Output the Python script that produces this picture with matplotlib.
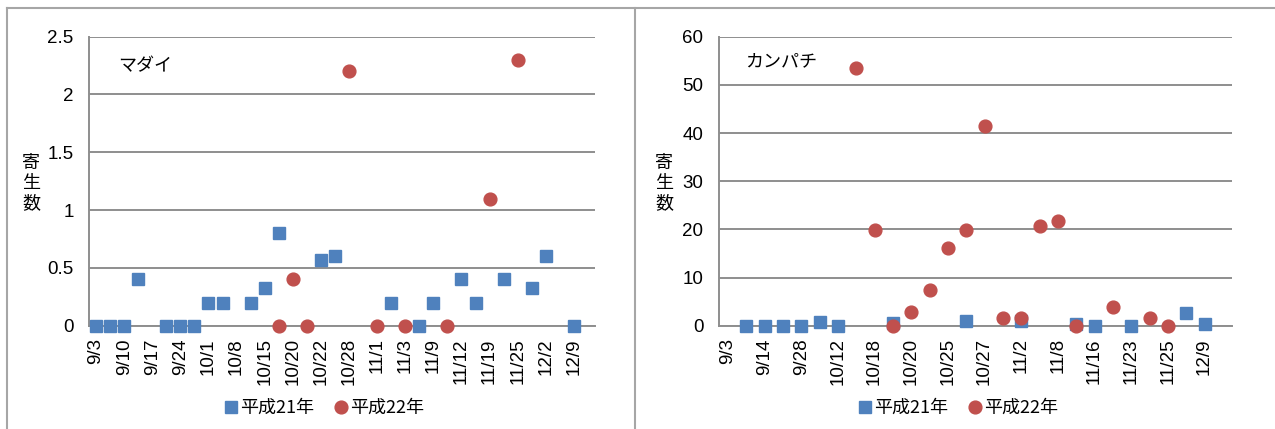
import numpy as np
import matplotlib
matplotlib.use("Agg")
import matplotlib.pyplot as plt
from matplotlib.lines import Line2D

plt.rcParams['font.family'] = ['Liberation Sans', 'Noto Sans CJK JP', 'DejaVu Sans']
JP = ['Noto Sans CJK JP', 'DejaVu Sans']

nan = np.nan

# マダイ: 36 sampling slots, every other one labelled
madai_labels = ["9/3", "9/10", "9/17", "9/24", "10/1", "10/8", "10/15", "10/20", "10/22",
                "10/28", "11/1", "11/3", "11/9", "11/12", "11/19", "11/25", "12/2", "12/9"]
madai_h21 = [0, 0, 0, 0.4, nan, 0, 0, 0, 0.2, 0.2, nan, 0.2, 0.33, 0.8, nan, nan, 0.57, 0.6,
             nan, nan, nan, 0.2, nan, 0, 0.2, nan, 0.4, 0.2, nan, 0.4, nan, 0.33, 0.6, nan, 0, nan]
madai_h22 = [nan, nan, nan, nan, nan, nan, nan, nan, nan, nan, nan, nan, nan, 0, 0.4, 0, nan, nan,
             2.2, nan, 0, nan, 0, nan, nan, 0, nan, nan, 1.1, nan, 2.3, nan, nan, nan, nan, nan]

# カンパチ: 28 sampling slots, every other one labelled
kanpachi_labels = ["9/3", "9/14", "9/28", "10/12", "10/18", "10/20", "10/25", "10/27",
                   "11/2", "11/8", "11/16", "11/23", "11/25", "12/9"]
kanpachi_h21 = [nan, 0, 0, 0, 0, 0.7, 0, nan, nan, 0.6, nan, nan, nan, 0.9, nan, nan, 1.0, nan,
                nan, 0.3, 0, nan, 0, nan, nan, 2.6, 0.3, nan]
kanpachi_h22 = [nan, nan, nan, nan, nan, nan, nan, 53.6, 19.8, 0, 2.8, 7.5, 16.1, 19.9, 41.5, 1.5,
                1.7, 20.6, 21.8, 0, nan, 3.9, nan, 1.5, 0, nan, nan, nan]

series_names = ["平成21年", "平成22年"]
BLUE = "#4F81BD"
RED = "#C0504D"
GRID = "#8E8E8E"

W, H = 1275, 429
fig = plt.figure(figsize=(W / 100, H / 100), dpi=100)


def px_box(x0, x1, y_top, y_bot):
    return [x0 / W, 1 - y_bot / H, (x1 - x0) / W, (y_bot - y_top) / H]


def draw_panel(rect, labels, h21, h22, ymax, ystep, yfmt, title, title_xy, ylabel_x, legend_x):
    ax = fig.add_axes(rect)
    n = len(h21)
    x = np.arange(n)
    ax.plot(x, h21, linestyle="none", marker="s", markersize=8.8, color=BLUE,
            markeredgecolor=BLUE, clip_on=False, zorder=3)
    ax.plot(x, h22, linestyle="none", marker="o", markersize=9.2, color=RED,
            markeredgecolor=RED, clip_on=False, zorder=4)
    ax.set_xlim(-0.5, n - 0.5)
    ax.set_ylim(0, ymax)
    yt = np.arange(0, ymax + ystep / 2, ystep)
    ax.set_yticks(yt)
    ax.set_yticklabels([yfmt(v) for v in yt], fontsize=13.5)
    ax.set_xticks(x[::2][:len(labels)])
    ax.set_xticklabels(labels, rotation=90, fontsize=13.5, ha="center", va="top")
    ax.tick_params(axis="both", length=0)
    ax.tick_params(axis="y", pad=11)
    ax.tick_params(axis="x", pad=9)
    ax.grid(axis="y", color=GRID, linewidth=1.4)
    ax.set_axisbelow(True)
    for s in ("top", "right"):
        ax.spines[s].set_visible(False)
    for s in ("left", "bottom"):
        ax.spines[s].set_color(GRID)
        ax.spines[s].set_linewidth(1.4)
        ax.spines[s].set_zorder(2)
    ax.text(title_xy[0], title_xy[1], title, transform=ax.transAxes, fontsize=13,
            family=JP, ha="left", va="center")
    fig.text(ylabel_x / W, 1 - 183 / H, "寄\n生\n数", fontsize=13, family=JP, ha="center",
             va="center", linespacing=1.16)
    handles = [Line2D([], [], linestyle="none", marker="s", markersize=8.8, color=BLUE),
               Line2D([], [], linestyle="none", marker="o", markersize=9.2, color=RED)]
    fig.legend(handles, series_names, loc="center", bbox_to_anchor=(legend_x / W, 1 - 408 / H),
               ncol=2, frameon=False, prop={"family": JP, "size": 13}, handletextpad=0.0,
               columnspacing=1.0, handlelength=1.0)
    return ax


def fmt_madai(v):
    return "0" if v == 0 else ("%g" % v)


draw_panel(px_box(89, 595, 36.7, 325.7), madai_labels, madai_h21, madai_h22, 2.5, 0.5,
           fmt_madai, "マダイ", (0.057, 0.899), 31, 323)
draw_panel(px_box(718.7, 1232, 36.7, 325.7), kanpachi_labels, kanpachi_h21, kanpachi_h22,
           60, 10, lambda v: "%d" % v, "カンパチ", (0.051, 0.916), 664, 957)

# chart-area frames
FRAME = "#A6A6A6"
fig.add_artist(Line2D([7 / W, 7 / W], [0, 1 - 8 / H], color=FRAME, linewidth=1.5))
fig.add_artist(Line2D([7 / W, 1], [1 - 8 / H, 1 - 8 / H], color=FRAME, linewidth=1.5))
fig.add_artist(Line2D([634.5 / W, 634.5 / W], [0, 1 - 8 / H], color=FRAME, linewidth=1.5))

fig.savefig("out.png", dpi=100)
